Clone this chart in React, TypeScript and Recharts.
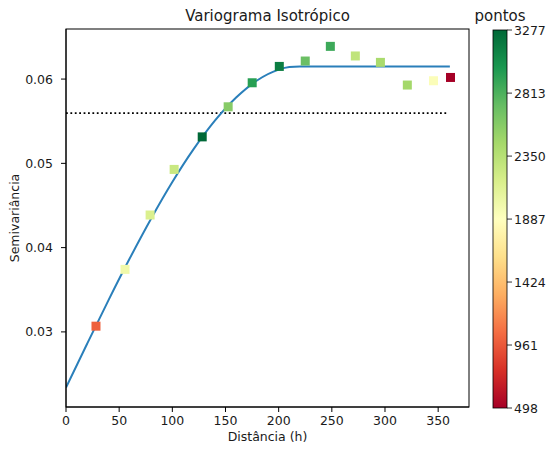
import React from "react";
import {
  ComposedChart,
  Scatter,
  Line,
  XAxis,
  YAxis,
  ReferenceLine,
} from "recharts";

// ---- data ----
const LAG_DIST = [28.2, 55.5, 79.1, 101.7, 128.1, 152.5, 175.1, 200.6, 225.0, 248.6, 272.1, 295.7, 321.0, 345.6, 361.6];
const LAG_GAMMA = [0.03068, 0.03742, 0.04387, 0.04928, 0.05314, 0.05671, 0.05956, 0.0615, 0.06214, 0.06388, 0.06274, 0.06198, 0.05929, 0.0598, 0.06019];
const LAG_PONTOS = [1000, 2000, 2150, 2250, 3277, 2580, 2950, 3150, 2700, 2870, 2300, 2420, 2450, 1920, 498];

const MODEL_H = [0, 20, 40, 60, 80, 100, 120, 140, 160, 180, 200, 210, 220, 361];
const MODEL_G = [0.0234, 0.02863, 0.03377, 0.03873, 0.04343, 0.04778, 0.05168, 0.05506, 0.05781, 0.05986, 0.06112, 0.06143, 0.0615, 0.0615];

const SILL_VALUE = 0.05596;
const SILL_END = 358;

const X_TICKS = [0, 50, 100, 150, 200, 250, 300, 350];
const Y_TICKS = [0.03, 0.04, 0.05, 0.06];
const X_DOMAIN = [0, 379];
const Y_DOMAIN = [0.02109, 0.06594];
const CB_TICKS = [498, 961, 1424, 1887, 2350, 2813, 3277];
const CB_MIN = 498;
const CB_MAX = 3277;

const TITLE = "Variograma Isotrópico";
const X_LABEL = "Distância (h)";
const Y_LABEL = "Semivariância";
const CB_LABEL = "pontos";

// RdYlGn colormap
const RDYLGN = [
  "#a50026", "#d73027", "#f46d43", "#fdae61", "#fee08b", "#ffffbf",
  "#d9ef8b", "#a6d96a", "#66bd63", "#1a9850", "#006837",
];

function hexToRgb(h: string) {
  return [parseInt(h.slice(1, 3), 16), parseInt(h.slice(3, 5), 16), parseInt(h.slice(5, 7), 16)];
}
function cmap(v: number) {
  let t = (v - CB_MIN) / (CB_MAX - CB_MIN);
  t = Math.max(0, Math.min(1, t));
  const pos = t * (RDYLGN.length - 1);
  const i = Math.min(RDYLGN.length - 2, Math.floor(pos));
  const f = pos - i;
  const a = hexToRgb(RDYLGN[i]);
  const b = hexToRgb(RDYLGN[i + 1]);
  const c = a.map((x, k) => Math.round(x + (b[k] - x) * f));
  return `rgb(${c[0]},${c[1]},${c[2]})`;
}

const lagData = LAG_DIST.map((h, i) => ({ h, g: LAG_GAMMA[i], n: LAG_PONTOS[i] }));
const modelData = MODEL_H.map((h, i) => ({ h, g: MODEL_G[i] }));

const FONT = "'DejaVu Sans', sans-serif";
const TXT = "#1a1a1a";

const W = 548;
const H = 450;
const PLOT = { left: 66, top: 29, right: 469, bottom: 407 };
const CB = { x: 493, y: 30, w: 14, h: 378 };

const Square = (props: any) => {
  const { cx, cy, payload } = props;
  if (cx == null || cy == null) return null;
  const s = 9;
  return <rect x={cx - s / 2} y={cy - s / 2} width={s} height={s} fill={cmap(payload.n)} />;
};

export default function App() {
  const cbY = (v: number) => CB.y + CB.h - ((v - CB_MIN) / (CB_MAX - CB_MIN)) * CB.h;
  return (
    <div style={{ position: "absolute", left: 0, top: 0, width: W, height: H, background: "#fff" }}>
      <ComposedChart
        width={W}
        height={H}
        margin={{ top: PLOT.top, right: W - PLOT.right, bottom: 0, left: 0 }}
      >
        <XAxis
          dataKey="h"
          type="number"
          domain={X_DOMAIN}
          allowDataOverflow
          ticks={X_TICKS}
          height={H - PLOT.bottom}
          tickSize={5}
          tickMargin={4}
          stroke="#000"
          tick={{ fontSize: 12.5, fill: TXT, fontFamily: FONT }}
          tickLine={{ stroke: "#000" }}
          axisLine={{ stroke: "#000" }}
        />
        <YAxis
          dataKey="g"
          type="number"
          domain={Y_DOMAIN}
          allowDataOverflow
          ticks={Y_TICKS}
          width={PLOT.left}
          tickSize={5}
          tickMargin={8}
          tickFormatter={(v: number) => v.toFixed(2)}
          tick={{ fontSize: 12.5, fill: TXT, fontFamily: FONT }}
          tickLine={{ stroke: "#000" }}
          axisLine={{ stroke: "#000" }}
        />
        <ReferenceLine
          segment={[{ x: 0, y: SILL_VALUE }, { x: SILL_END, y: SILL_VALUE }]}
          stroke="#000"
          strokeWidth={1.8}
          strokeDasharray="1.8 2.6"
        />
        <Scatter data={lagData} dataKey="g" shape={Square} isAnimationActive={false} />
        <Line
          data={modelData}
          dataKey="g"
          type="monotone"
          stroke="#2a7fba"
          strokeWidth={2}
          dot={false}
          activeDot={false}
          isAnimationActive={false}
        />
      </ComposedChart>
      <svg
        width={W}
        height={H}
        style={{ position: "absolute", left: 0, top: 0, pointerEvents: "none" }}
        fontFamily={FONT}
      >
        <defs>
          <linearGradient id="cbgrad" x1="0" y1="1" x2="0" y2="0">
            {RDYLGN.map((c, i) => (
              <stop key={i} offset={i / (RDYLGN.length - 1)} stopColor={c} />
            ))}
          </linearGradient>
        </defs>
        <rect
          x={PLOT.left}
          y={PLOT.top}
          width={PLOT.right - PLOT.left}
          height={PLOT.bottom - PLOT.top}
          fill="none"
          stroke="#000"
          strokeWidth={1}
        />
        <text x={(PLOT.left + PLOT.right) / 2} y={21} textAnchor="middle" fontSize={15} fill={TXT}>
          {TITLE}
        </text>
        <text x={(PLOT.left + PLOT.right) / 2} y={441} textAnchor="middle" fontSize={12.5} fill={TXT}>
          {X_LABEL}
        </text>
        <text
          x={0}
          y={0}
          transform={`translate(19, ${(PLOT.top + PLOT.bottom) / 2}) rotate(-90)`}
          textAnchor="middle"
          fontSize={12.5}
          fill={TXT}
        >
          {Y_LABEL}
        </text>
        <text x={CB.x + CB.w / 2} y={21} textAnchor="middle" fontSize={15} fill={TXT}>
          {CB_LABEL}
        </text>
        <rect x={CB.x} y={CB.y} width={CB.w} height={CB.h} fill="url(#cbgrad)" stroke="#000" strokeWidth={0.8} />
        {CB_TICKS.map((v) => (
          <g key={v}>
            <line x1={CB.x + CB.w} x2={CB.x + CB.w + 5} y1={cbY(v)} y2={cbY(v)} stroke="#000" strokeWidth={0.8} />
            <text x={CB.x + CB.w + 7} y={cbY(v)} dy="0.36em" fontSize={12.5} fill={TXT}>
              {v}
            </text>
          </g>
        ))}
      </svg>
    </div>
  );
}
